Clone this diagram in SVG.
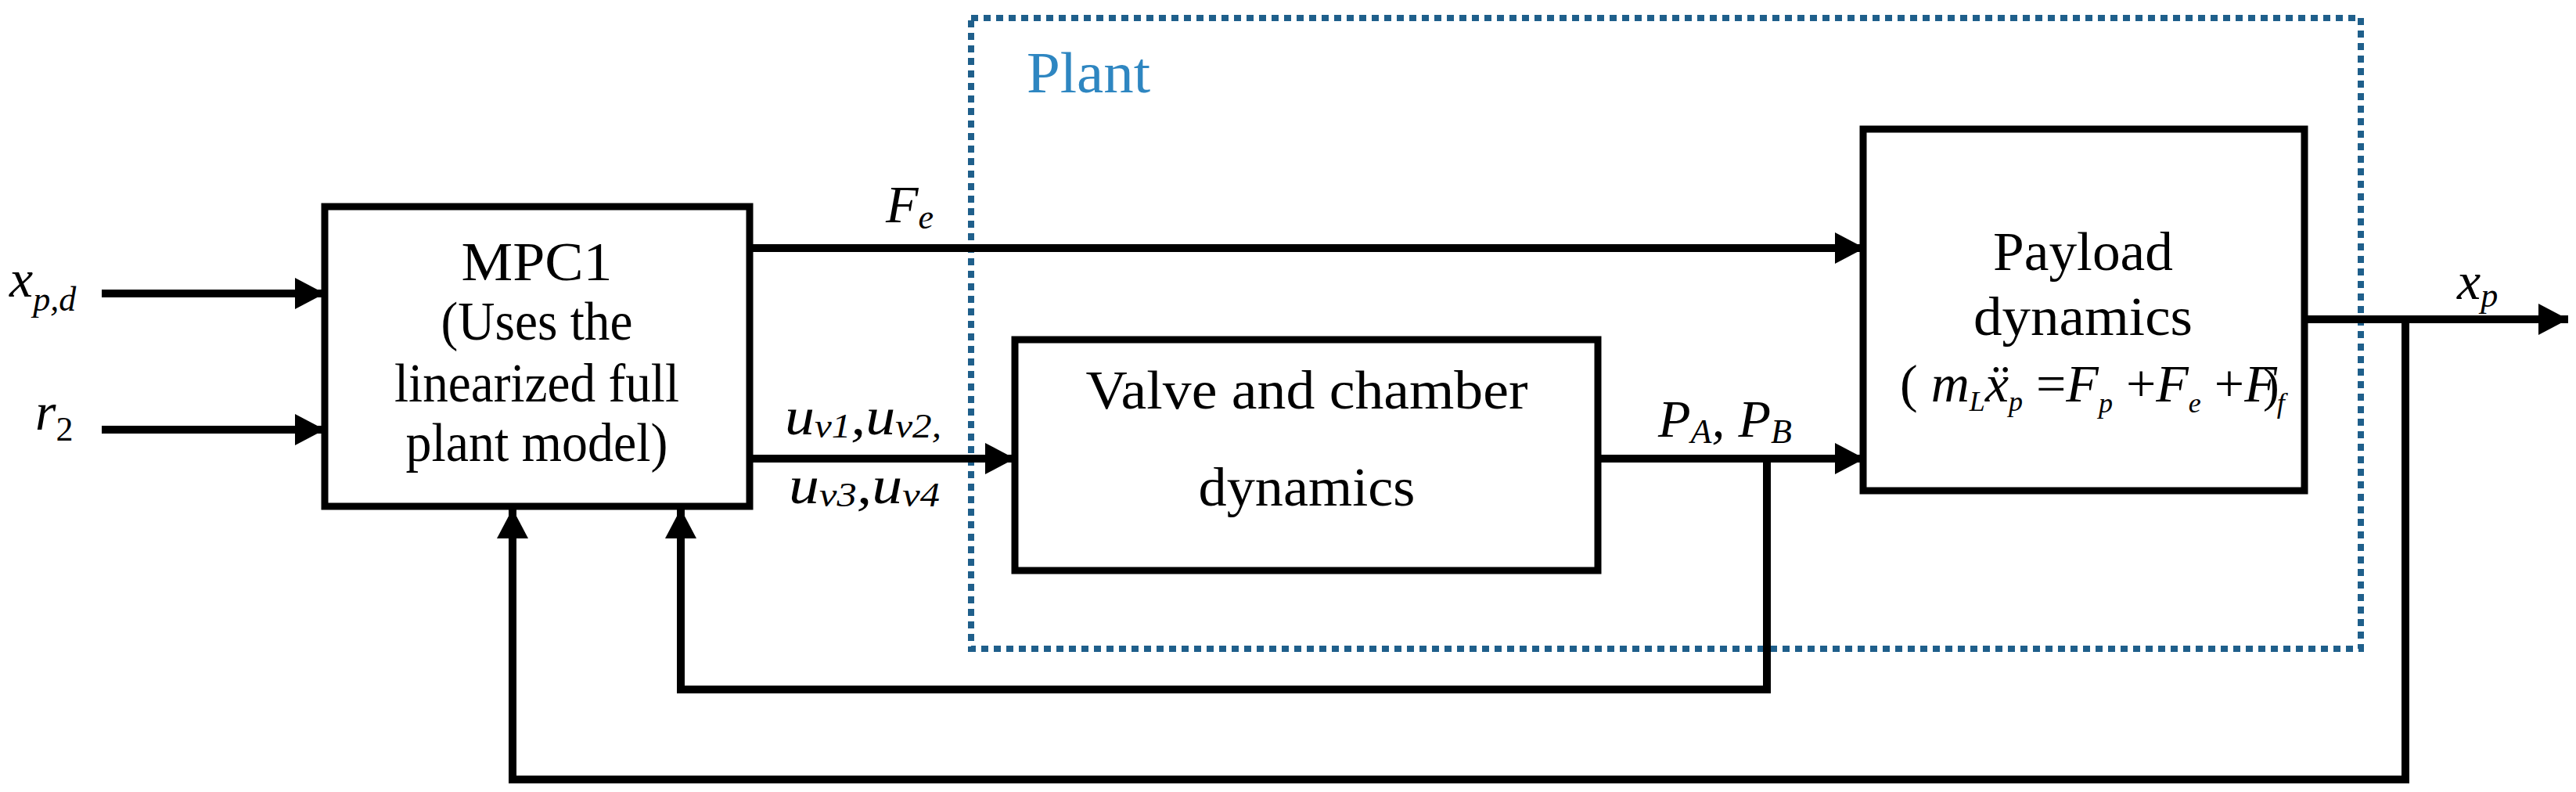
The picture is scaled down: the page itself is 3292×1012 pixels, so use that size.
<svg xmlns="http://www.w3.org/2000/svg" width="3292" height="1012" viewBox="0 0 3292 1012">
<style>
.box{fill:#fff;stroke:#000;stroke-width:9}
.ln{fill:none;stroke:#000;stroke-width:10}
.t{font-family:"Liberation Serif",serif;font-size:70px;fill:#000;text-anchor:middle}
.m{font-family:"Liberation Serif",serif;font-style:italic;font-size:68px;fill:#000}
.s{font-size:44px}
</style>
<defs>
<marker id="ah" markerUnits="userSpaceOnUse" markerWidth="42" markerHeight="42" refX="38" refY="20" orient="auto">
<path d="M0,0 L38,20 L0,40 Z" fill="#000"/>
</marker>
</defs>
<g id="plant">
<rect x="1241" y="23" width="1776" height="806" fill="none" stroke="#1f5f8b" stroke-width="8" stroke-dasharray="9 7"/>
<text x="1312" y="118" font-family="Liberation Serif,serif" font-size="74" fill="#2e86c1" textLength="158" lengthAdjust="spacingAndGlyphs">Plant</text>
</g>
<g id="connectors">
<line class="ln" x1="130" y1="375" x2="415" y2="375" marker-end="url(#ah)"/>
<line class="ln" x1="130" y1="549" x2="415" y2="549" marker-end="url(#ah)"/>
<line class="ln" x1="958" y1="317" x2="2383" y2="317" marker-end="url(#ah)"/>
<line class="ln" x1="958" y1="586" x2="1297" y2="586" marker-end="url(#ah)"/>
<line class="ln" x1="2042" y1="586" x2="2383" y2="586" marker-end="url(#ah)"/>
<line class="ln" x1="2944" y1="408" x2="3282" y2="408" marker-end="url(#ah)"/>
<polyline class="ln" points="2258,586 2258,881 870,881 870,650" marker-end="url(#ah)"/>
<polyline class="ln" points="3074,408 3074,996 655,996 655,650" marker-end="url(#ah)"/>
</g>
<g id="mpc1">
<rect class="box" x="415" y="264" width="543" height="383"/>
<text class="t" x="686" y="358" font-size="76" textLength="193" lengthAdjust="spacingAndGlyphs">MPC1</text>
<text class="t" x="686" y="434" textLength="245" lengthAdjust="spacingAndGlyphs">(Uses  the</text>
<text class="t" x="686" y="513" textLength="364" lengthAdjust="spacingAndGlyphs">linearized full</text>
<text class="t" x="686" y="589" textLength="335" lengthAdjust="spacingAndGlyphs">plant model)</text>
</g>
<g id="valve">
<rect class="box" x="1297" y="434" width="745" height="295"/>
<text class="t" x="1670" y="522" textLength="565" lengthAdjust="spacingAndGlyphs">Valve and chamber</text>
<text class="t" x="1670" y="646" textLength="277" lengthAdjust="spacingAndGlyphs">dynamics</text>
</g>
<g id="payload">
<rect class="box" x="2381" y="165" width="564" height="462"/>
<text class="t" x="2662" y="345" textLength="230" lengthAdjust="spacingAndGlyphs">Payload</text>
<text class="t" x="2662" y="428" textLength="280" lengthAdjust="spacingAndGlyphs">dynamics</text>
<text class="m" x="2428" y="513" font-size="62"><tspan font-style="normal">( </tspan>m<tspan font-size="36" dy="12">L</tspan><tspan dy="-12">ẍ</tspan><tspan font-size="36" dy="12">p</tspan><tspan dy="-12" font-style="normal"> =</tspan>F<tspan font-size="36" dy="14">p</tspan><tspan dy="-14" font-style="normal"> +</tspan>F<tspan font-size="36" dy="14">e</tspan><tspan dy="-14" font-style="normal"> +</tspan>F<tspan font-size="36" dy="14">f</tspan></text>
<text x="2892" y="513" font-family="Liberation Serif,serif" font-size="62">)</text>
</g>
<g id="labels">
<text class="m" x="12" y="379" font-size="72">x<tspan class="s" dy="18">p,d</tspan></text>
<text class="m" x="45" y="549" font-size="72">r<tspan class="s" dy="14" font-style="normal">2</tspan></text>
<text class="m" x="1132" y="284" font-size="72">F<tspan class="s" dy="8">e</tspan></text>
<text class="m" x="1003" y="555" font-size="62" textLength="200" lengthAdjust="spacingAndGlyphs">u<tspan class="s" dy="4">v1</tspan><tspan dy="-4">,u</tspan><tspan class="s" dy="4">v2,</tspan></text>
<text class="m" x="1008" y="643" font-size="62" textLength="193" lengthAdjust="spacingAndGlyphs">u<tspan class="s" dy="4">v3</tspan><tspan dy="-4">,u</tspan><tspan class="s" dy="4">v4</tspan></text>
<text class="m" x="2119" y="558" font-size="70">P<tspan class="s" dy="8">A</tspan><tspan dy="-8">, P</tspan><tspan class="s" dy="8">B</tspan></text>
<text class="m" x="3140" y="382" font-size="72">x<tspan class="s" dy="10">p</tspan></text>
</g>
</svg>
